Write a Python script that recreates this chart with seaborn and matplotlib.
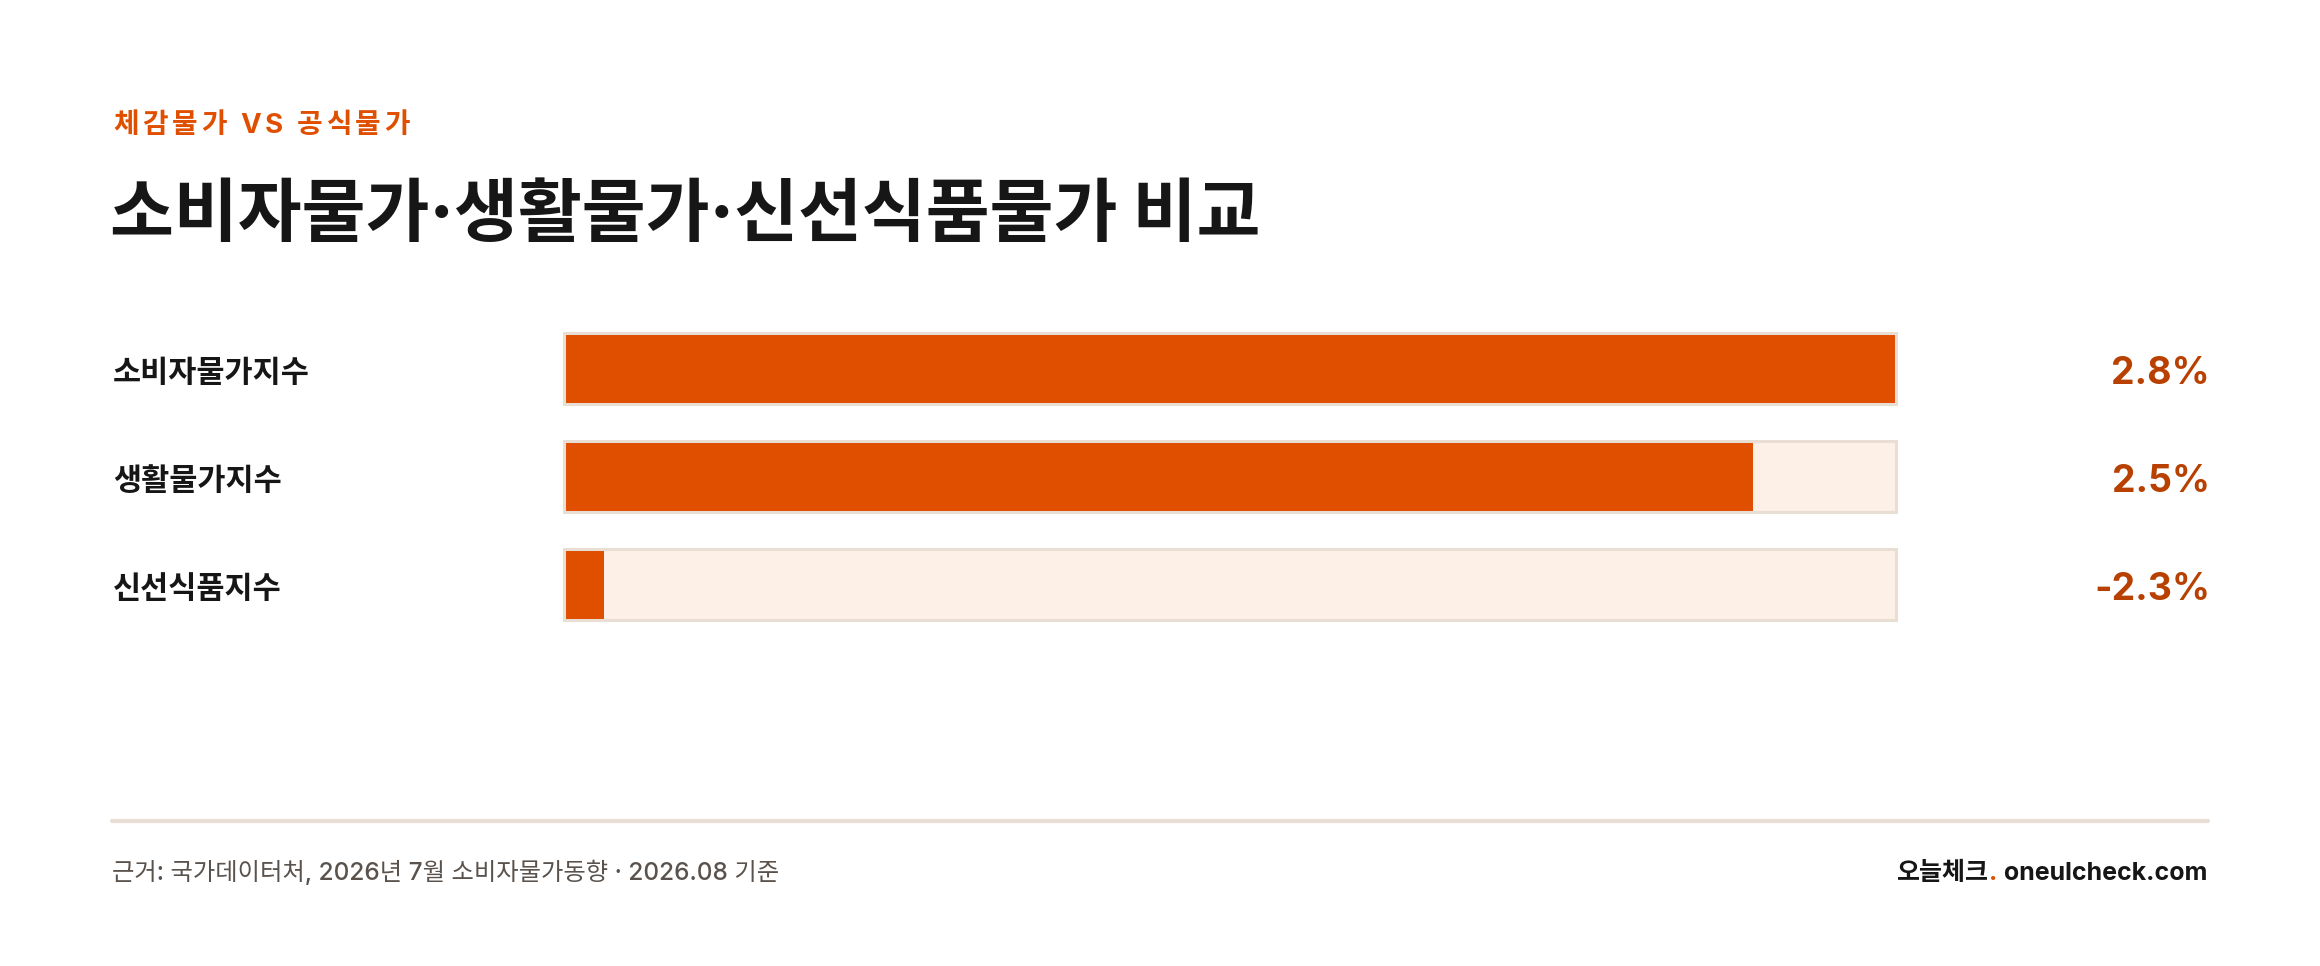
import matplotlib.pyplot as plt
from matplotlib.lines import Line2D
import seaborn as sns

# 데이터
kicker = '체감물가 VS 공식물가'
title = '소비자물가·생활물가·신선식품물가 비교'
categories = ['소비자물가지수', '생활물가지수', '신선식품지수']
values = [2.8, 2.5, -2.3]
source = '근거: 국가데이터처, 2026년 7월 소비자물가동향 · 2026.08 기준'
brand_ko = '오늘체크'
brand_url = ' oneulcheck.com'

ORANGE = '#E04E00'
VALUE_C = '#B84000'
TRACK = '#FDF1E7'
BORDER = '#E8DED4'
DARK = '#161616'
GREY = '#5A524C'

sns.set_theme(style='white')
plt.rcParams['font.family'] = ['Inter', 'Noto Sans CJK KR', 'DejaVu Sans']

W, H = 2320, 966
fig = plt.figure(figsize=(W / 100, H / 100), dpi=100)
fig.patch.set_facecolor('white')
renderer = fig.canvas.get_renderer()

# 막대 영역
ax = fig.add_axes([564 / W, 1 - 638 / H, 1332 / W, 323 / H])
vmax = max(values)
track = [vmax] * len(values)
# 음수는 최소 폭으로 표시
shown = [max(v, vmax * 0.03) for v in values]

common = dict(y=categories, orient='h', width=0.66, errorbar=None, saturation=1,
              ax=ax, clip_on=False)
sns.barplot(x=track, color=TRACK, linewidth=0, zorder=1, **common)
sns.barplot(x=shown, color=ORANGE, linewidth=0, zorder=2, **common)
sns.barplot(x=track, color=BORDER, fill=False, linewidth=2.2, zorder=3, **common)

ax.set_xlim(0, vmax)
ax.set_ylim(2.5, -0.5)
ax.axis('off')

lab_x = (113 - 564) / 1332
val_x = (2210 - 564) / 1332
for i, (cat, v) in enumerate(zip(categories, values)):
    ax.text(lab_x, i + 0.05, cat, transform=ax.get_yaxis_transform(), ha='left',
            va='center', fontsize=22, fontweight='bold', color=DARK)
    ax.text(val_x, i + 0.05, f'{v:.1f}%', transform=ax.get_yaxis_transform(),
            ha='right', va='center', fontsize=27, fontweight='bold', color=VALUE_C)


# 자간 넓힌 텍스트
def spaced_text(x_px, y_px, s, gap_px, space_px, **kw):
    x = x_px
    for ch in s:
        if ch == ' ':
            x += space_px
            continue
        t = fig.text(x / W, 1 - y_px / H, ch, ha='left', va='baseline', **kw)
        x = t.get_window_extent(renderer).x1 + gap_px


spaced_text(113, 133, kicker, 3.8, 10, fontsize=20, fontweight='bold', color=ORANGE)
fig.text(110 / W, 1 - 217 / H, title, ha='left', va='center', fontsize=50,
         fontweight='heavy', color=DARK)

# 하단
fig.add_artist(Line2D([112 / W, 2208 / W], [1 - 821 / H] * 2, color=BORDER, lw=3))
yb = 1 - 880 / H
fig.text(112 / W, yb, source, ha='left', va='baseline', fontsize=17.5,
         fontweight='medium', color=GREY)

t_url = fig.text(2207 / W, yb, brand_url, ha='right', va='baseline', fontsize=18,
                 fontweight='bold', color=DARK)
x0 = t_url.get_window_extent(renderer).x0
t_dot = fig.text(x0 / W, yb, '.', ha='right', va='baseline', fontsize=18,
                 fontweight='bold', color=ORANGE)
x0 = t_dot.get_window_extent(renderer).x0
fig.text(x0 / W, yb, brand_ko, ha='right', va='baseline', fontsize=18,
         fontweight='bold', color=DARK)

fig.savefig('out.png', dpi=100, facecolor='white')
